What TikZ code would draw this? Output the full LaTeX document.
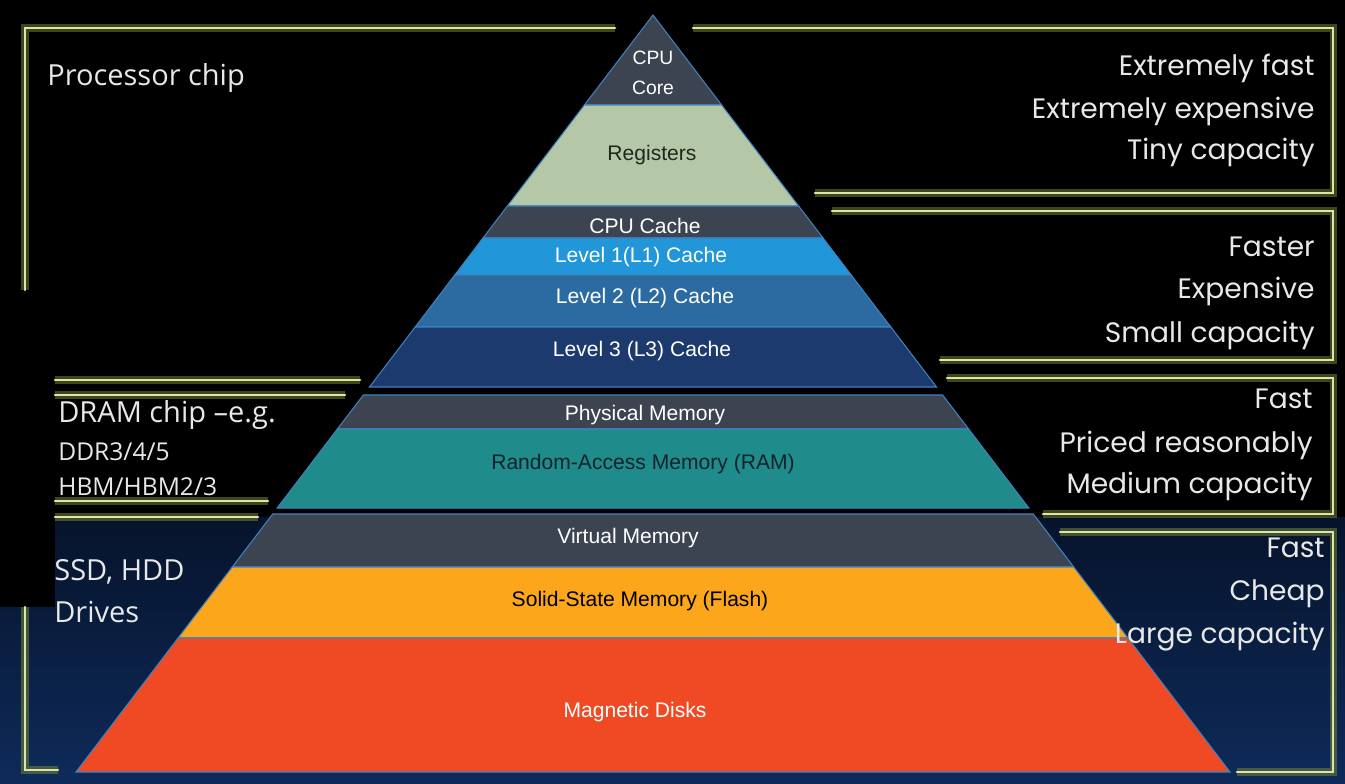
\documentclass[tikz,border=0pt]{standalone}
\usepackage{fontspec}
\setmainfont{Liberation Sans}
\newfontfamily\sidefont{Poppins}
\newfontfamily\chipfont{Open Sans}
\definecolor{bgtop}{HTML}{06132B}
\definecolor{bgbottom}{HTML}{0E2B5A}
\definecolor{brkcore}{HTML}{DDE6A8}
\definecolor{brkglow}{HTML}{7D8C34}
\definecolor{edgeblue}{HTML}{3F82C0}
\definecolor{slategray}{HTML}{3C4452}
\definecolor{sagegreen}{HTML}{B4C7A7}
\definecolor{lonecyan}{HTML}{2196D8}
\definecolor{ltwosteel}{HTML}{2C6BA2}
\definecolor{lthreenavy}{HTML}{1C3A6D}
\definecolor{ramteal}{HTML}{208B8B}
\definecolor{flashorange}{HTML}{FCA61C}
\definecolor{diskred}{HTML}{EF4A23}
\definecolor{regtext}{HTML}{1C2A1C}
\definecolor{ramtext}{HTML}{10222E}
\definecolor{labelwhite}{HTML}{E8E8E8}
\tikzset{
  bracket/.style={draw=brkcore, line width=1.5pt, line cap=round,
    preaction={draw=brkglow, line width=4pt, opacity=0.5}},
  layer/.style={draw=edgeblue, line width=0.6pt},
  tier/.style={font=\fontsize{12}{14}\selectfont, text=white, inner sep=0pt},
  chiplbl/.style={font=\chipfont\fontsize{16.5}{19}\selectfont, text=labelwhite,
    anchor=base west, inner sep=0pt},
  chipsmall/.style={chiplbl, font=\chipfont\fontsize{14}{17}\selectfont},
  sidelbl/.style={font=\sidefont\fontsize{16}{19}\selectfont, text=labelwhite,
    anchor=base east, inner sep=0pt}
}
\begin{document}
\begin{tikzpicture}[x=0.02cm,y=-0.02cm]
    \useasboundingbox (0,0) rectangle (1345,784);
    \fill[black] (0,0) rectangle (1345,517);
    \shade[top color=bgtop, bottom color=bgbottom] (0,517) rectangle (1345,784);
    \fill[black] (0,517) rectangle (55,607);

    \filldraw[layer, fill=slategray] (653,15) -- (721.6,105) -- (584.4,105) -- cycle;
    \filldraw[layer, fill=sagegreen] (584.4,105) -- (721.6,105) -- (798.6,206) -- (507.4,206) -- cycle;
    \filldraw[layer, fill=slategray] (507.4,206) -- (798.6,206) -- (823,238) -- (483,238) -- cycle;
    \filldraw[layer, fill=lonecyan] (483,238) -- (823,238) -- (851.2,275) -- (454.8,275) -- cycle;
    \filldraw[layer, fill=ltwosteel] (454.8,275) -- (851.2,275) -- (890.8,327) -- (415.2,327) -- cycle;
    \filldraw[layer, fill=lthreenavy] (415.2,327) -- (890.8,327) -- (936.5,387) -- (369.5,387) -- cycle;

    \filldraw[layer, fill=slategray] (363.4,395) -- (942.6,395) -- (968.6,429) -- (337.4,429) -- cycle;
    \filldraw[layer, fill=ramteal] (337.4,429) -- (968.6,429) -- (1028.8,508) -- (277.2,508) -- cycle;

    \filldraw[layer, fill=slategray] (272.7,514) -- (1033.3,514) -- (1073.7,567) -- (232.3,567) -- cycle;
    \filldraw[layer, fill=flashorange] (232.3,567) -- (1073.7,567) -- (1127.9,638) -- (178.1,638) -- cycle;
    \filldraw[layer, fill=diskred] (178.1,638) -- (1127.9,638) -- (1230,772) -- (76,772) -- cycle;

    \node[tier, align=center, font=\fontsize{11}{17}\selectfont] (core) at (653,73) {CPU\\Core};
    \node[tier, text=regtext] (regs) at (652,155) {Registers};
    \node[tier] (cache) at (645,226) {CPU Cache};
    \node[tier] (lone) at (641,257) {Level 1(L1) Cache};
    \node[tier] (ltwo) at (645,298) {Level 2 (L2) Cache};
    \node[tier] (lthree) at (642,351) {Level 3 (L3) Cache};
    \node[tier] (phys) at (645,415) {Physical Memory};
    \node[tier, text=ramtext] (ram) at (643,464) {Random-Access Memory (RAM)};
    \node[tier] (virt) at (628,538) {Virtual Memory};
    \node[tier, text=black] (flash) at (640,601) {Solid-State Memory (Flash)};
    \node[tier] (disks) at (635,712) {Magnetic Disks};

    \draw[bracket] (615,28) -- (25,28) -- (25,290);
    \draw[bracket] (55,380) -- (360,380);
    \draw[bracket] (55,395) -- (345,395);
    \draw[bracket] (55,501) -- (268,501);
    \draw[bracket] (55,517) -- (258,517);
    \draw[bracket] (25,607) -- (25,770) -- (58,770);
    \draw[bracket] (693,28) -- (1333,28) -- (1333,193) -- (815,193);
    \draw[bracket] (832,211) -- (1333,211) -- (1333,360) -- (940,360);
    \draw[bracket] (947,378) -- (1333,378) -- (1333,514) -- (1043,514);
    \draw[bracket] (1060,532) -- (1333,532) -- (1333,772) -- (1237,772);

    \node[chiplbl] (proc) at (47,86) {Processor chip};
    \node[chiplbl] (dram) at (58,422) {DRAM chip –e.g.};
    \node[chipsmall] (ddr) at (58,460) {DDR3/4/5};
    \node[chipsmall] (hbm) at (58,495) {HBM/HBM2/3};
    \node[chiplbl] (drivesa) at (54,580) {SSD, HDD};
    \node[chiplbl] (drivesb) at (54,622) {Drives};

    \node[sidelbl] (fasta) at (1315,76) {Extremely fast};
    \node[sidelbl] (costa) at (1315,118) {Extremely expensive};
    \node[sidelbl] (capa) at (1315,159) {Tiny capacity};
    \node[sidelbl] (fastb) at (1315,256) {Faster};
    \node[sidelbl] (costb) at (1315,298) {Expensive};
    \node[sidelbl] (capb) at (1315,342) {Small capacity};
    \node[sidelbl] (fastc) at (1313,408) {Fast};
    \node[sidelbl] (costc) at (1313,452) {Priced reasonably};
    \node[sidelbl] (capc) at (1313,493) {Medium capacity};
    \node[sidelbl] (fastd) at (1325,557) {Fast};
    \node[sidelbl] (costd) at (1325,600) {Cheap};
    \node[sidelbl] (capd) at (1325,643) {Large capacity};
\end{tikzpicture}
\end{document}
